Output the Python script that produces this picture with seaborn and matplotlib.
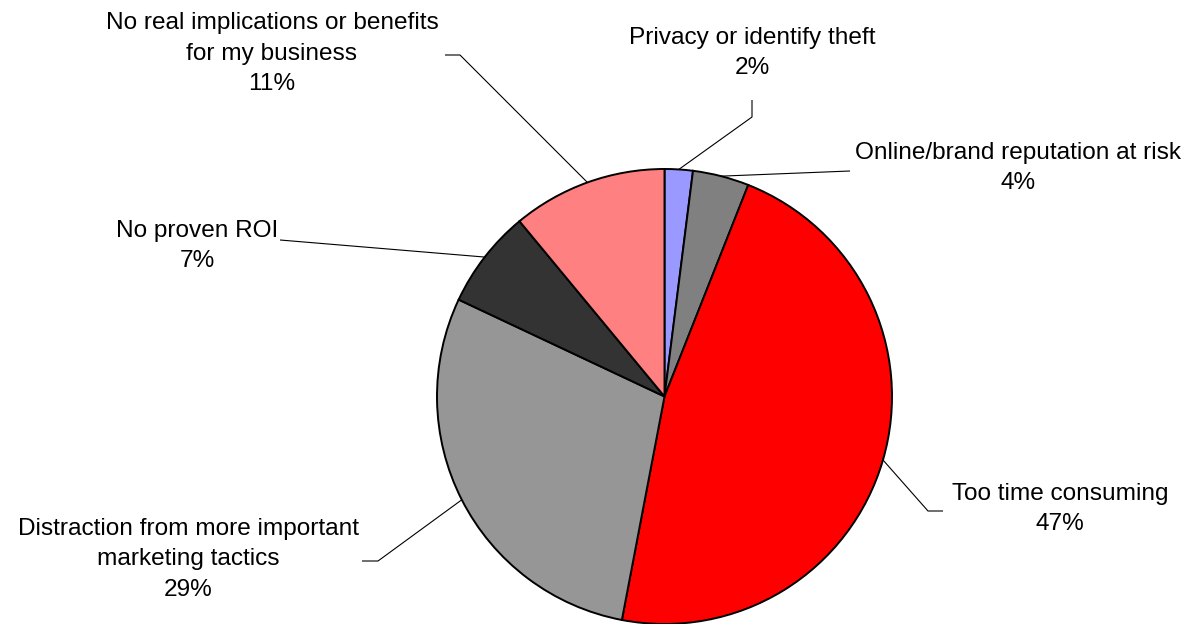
import matplotlib
matplotlib.use("Agg")
import matplotlib.pyplot as plt
import numpy as np
import seaborn as sns

# Survey answers: main concerns about using social media for business
categories = [
    "Privacy or identify theft",
    "Online/brand reputation at risk",
    "Too time consuming",
    "Distraction from more important\nmarketing tactics",
    "No proven ROI",
    "No real implications or benefits\nfor my business",
]
shares = [2, 4, 47, 29, 7, 11]
slice_colors = ["#9999FF", "#808080", "#FF0000", "#969696", "#333333", "#FF8080"]

sns.set_theme(style="white")
plt.rcParams["font.family"] = ["Liberation Sans", "DejaVu Sans"]

W, H = 1189, 624
fig = plt.figure(figsize=(W / 100, H / 100), dpi=100)
fig.patch.set_facecolor("white")

# Full-figure layer in pixel units for labels and leader lines
lab = fig.add_axes([0, 0, 1, 1], zorder=0)
lab.set_xlim(0, W)
lab.set_ylim(H, 0)
lab.axis("off")

# Pie placed in a square box (455 px), centre at (664.5, 396.5) from top-left
R = 227.5
cx, cy = 664.5, 396.5
pie_ax = fig.add_axes([(cx - R) / W, (H - cy - R) / H, 2 * R / W, 2 * R / H], zorder=1)
pie_ax.patch.set_alpha(0)
wedges, _ = pie_ax.pie(
    shares,
    colors=sns.color_palette(slice_colors),
    startangle=90,
    counterclock=False,
    wedgeprops=dict(edgecolor="black", linewidth=1.4),
)
pie_ax.set_xlim(-1, 1)
pie_ax.set_ylim(-1, 1)
pie_ax.set_aspect("equal")
pie_ax.axis("off")
for w in wedges:
    w.set_clip_on(False)

# Label block centres and leader-line bends (pixel layout)
label_pos = [(752, 53), (1018, 168), (1060, 509), (188, 559), (197, 246), (272, 54)]
bends = [
    [(752, 117), (752, 100)],
    [(850, 171)],
    [(928, 511), (943, 511)],
    [(378, 561), (362, 561)],
    [(280, 240)],
    [(460, 55), (445, 55)],
]

to_lab = lab.transData.inverted()
for w, name, val, (lx, ly), bend in zip(wedges, categories, shares, label_pos, bends):
    mid = np.deg2rad((w.theta1 + w.theta2) / 2)
    edge = to_lab.transform(pie_ax.transData.transform((np.cos(mid), np.sin(mid))))
    pts = [tuple(edge)] + bend
    xs, ys = zip(*pts)
    lab.plot(xs, ys, color="black", linewidth=0.8, solid_capstyle="butt")
    lab.text(lx, ly, f"{name}\n{val}%", ha="center", va="center",
             multialignment="center", fontsize=17.6, linespacing=1.5, color="black")

fig.savefig("out.png", dpi=100, facecolor="white")
